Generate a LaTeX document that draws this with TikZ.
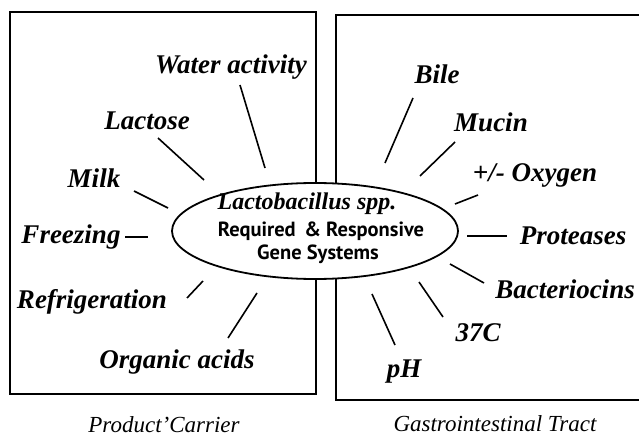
\documentclass[tikz,border=0pt]{standalone}
\usepackage{fontspec}
\setmainfont{Liberation Serif}
\newfontfamily\genefont{PT Sans}
\usetikzlibrary{shapes.geometric}

\begin{document}
\begin{tikzpicture}[
    x=1pt, y=-1pt,
    factor/.style={font=\fontsize{27}{31}\selectfont\bfseries\itshape, inner sep=0pt},
    caption/.style={font=\fontsize{23}{27}\selectfont\itshape, inner sep=0pt},
    spoke/.style={line width=1.6pt},
    panel/.style={line width=1.8pt}
]
\useasboundingbox (0,0) rectangle (639,438);

% Panels
\draw[panel] (10,12) rectangle (316,394);
\draw[panel] (639,15) -- (336,15) -- (336,400) -- (639,400);

% Centre
\node[ellipse, draw, panel, fill=white, minimum width=286, minimum height=96, inner sep=0pt] (gene) at (315,231) {};
\node[font=\fontsize{24}{27}\selectfont\bfseries\itshape, inner sep=0pt] (genus) at (307,204) {Lactobacillus spp.};
\node[font=\genefont\fontsize{20.5}{23}\selectfont\bfseries, inner sep=0pt] (req) at (321,231) {Required \,\& Responsive};
\node[font=\genefont\fontsize{20.5}{23}\selectfont\bfseries, inner sep=0pt] (sys) at (318,254) {Gene Systems};

% Product side
\node[factor] (water) at (231,67) {Water activity};
\node[factor] (lactose) at (147,121) {Lactose};
\node[factor] (milk) at (94,178) {Milk};
\node[factor] (freezing) at (71,237) {Freezing};
\node[factor] (refrig) at (92,302) {Refrigeration};
\node[factor] (organic) at (177,362) {Organic acids};

% Gut side
\node[factor] (bile) at (437,74) {Bile};
\node[factor] (mucin) at (491,122) {Mucin};
\node[factor] (oxygen) at (535,175) {+/- Oxygen};
\node[factor] (proteases) at (573,236) {Proteases};
\node[factor] (bacterio) at (565,289) {Bacteriocins};
\node[factor] (temp) at (478,333) {37C};
\node[factor] (ph) at (404,372) {pH};

% Spokes
\foreach \n/\ax/\ay/\bx/\by in {water/240/85/265/168, lactose/158/138/204/180,
    milk/134/191/168/208, freezing/125/237/148/237, refrig/187/298/203/281,
    organic/228/338/257/293, bile/413/98/385/163, mucin/455/142/420/176,
    oxygen/478/195/455/204, proteases/467/236/507/236, bacterio/484/283/450/264,
    temp/443/317/419/282, ph/395/345/372/294}
  \draw[spoke] (\ax,\ay) coordinate (\n-out) -- (\bx,\by) coordinate (\n-in);

% Captions
\node[caption] (product) at (164,425) {Product'Carrier};
\node[caption] (gut) at (495,424) {Gastrointestinal Tract};

\end{tikzpicture}
\end{document}
